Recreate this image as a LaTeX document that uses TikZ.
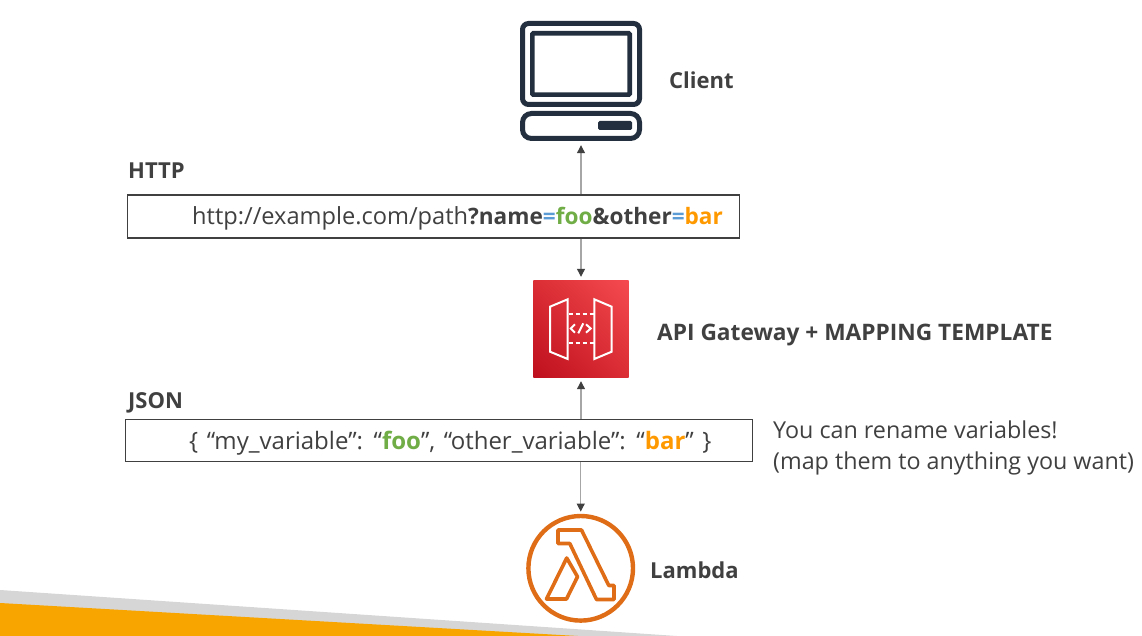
\documentclass[tikz,border=0pt]{standalone}
\usepackage{fontspec}
\setmainfont{Open Sans}
\usetikzlibrary{arrows.meta,shadings}
\definecolor{ink}{HTML}{404040}
\definecolor{navy}{HTML}{232F3E}
\definecolor{eqblue}{HTML}{5B9BD5}
\definecolor{foogreen}{HTML}{70AD47}
\definecolor{barorange}{HTML}{FF9900}
\definecolor{lam}{HTML}{DF6C16}
\definecolor{connector}{HTML}{A6A6A6}
\definecolor{band}{HTML}{F8A500}
\definecolor{bandgrey}{HTML}{D6D6D6}
\definecolor{gwlow}{HTML}{BE0F1E}
\definecolor{gwmid}{HTML}{DA2D34}
\definecolor{gwhigh}{HTML}{F54B50}
\newcommand{\boldpart}[1]{{\fontsize{22.6}{27}\selectfont\bfseries #1}}
\tikzset{
  x=1pt,y=-1pt,
  label text/.style={inner sep=0pt,anchor=base west,text=ink,font=\fontsize{22.7}{27}\selectfont\bfseries},
  short label/.style={label text,font=\fontsize{22}{27}\selectfont\bfseries},
  body text/.style={inner sep=0pt,anchor=base west,text=ink,font=\fontsize{23.3}{28}\selectfont},
  databox/.style={draw=ink,line width=1.3pt,fill=white,inner sep=0pt,anchor=north west},
  link/.style={draw=connector,line width=1.2pt,-{Triangle[width=8pt,length=8pt,color=ink,fill=ink]},shorten >=4pt},
  navyline/.style={draw=navy,line width=5pt,rounded corners=6pt},
  white art/.style={draw=white,line width=2pt,line join=miter},
  lam art/.style={draw=lam,line width=3.6pt,line join=round}
}
\begin{document}
\begin{tikzpicture}
\useasboundingbox (0,0) rectangle (1142,636);
% bottom band
\fill[bandgrey] (0,590) -- (677,636) -- (0,636) -- cycle;
\fill[band] (0,603) -- (578,636) -- (0,636) -- cycle;
% icon anchor nodes
\node[inner sep=0pt,minimum width=122pt,minimum height=120pt] (client) at (581,81) {};
\node[inner sep=0pt,minimum width=95pt,minimum height=96pt] (gateway) at (581,329) {};
\node[circle,inner sep=0pt,minimum size=109pt] (lambda) at (580.7,568.3) {};
% boxes
\node[databox,minimum width=612pt,minimum height=43pt] (httpbox) at (127,194.5) {};
\node[databox,minimum width=627pt,minimum height=42pt] (jsonbox) at (125,418.5) {};
% connectors
\draw[link] (httpbox.north -| client.south) -- (client.south);
\draw[link] (httpbox.south -| gateway.north) -- (gateway.north);
\draw[link] (jsonbox.north -| gateway.south) -- (gateway.south);
\draw[link,shorten >=2pt] (jsonbox.south -| lambda.north) -- (lambda.north);
% client icon
\draw[navyline] (522.5,23.5) rectangle (639.5,104.5);
\draw[draw=navy,line width=4.6pt,rounded corners=1pt] (532.3,33.3) rectangle (629.7,94.7);
\draw[navyline,rounded corners=9pt] (522.5,113.5) rectangle (639.5,138.5);
\fill[navy,rounded corners=1.5pt] (598,121) rectangle (632,130);
% gateway icon
\shade[shading=bilinear interpolation,lower left=gwlow,upper right=gwhigh,lower right=gwmid,upper left=gwmid]
  (gateway.north west) rectangle (gateway.south east);
\draw[white art] (550,306.7) -- (567.7,299.3) -- (567.7,359) -- (550,351.7) -- cycle;
\draw[white art] (594.3,299.3) -- (611.7,306.7) -- (611.7,351.7) -- (594.3,359) -- cycle;
\draw[white art,dash pattern=on 4pt off 3pt] (568.5,314.3) -- (594,314.3);
\draw[white art,dash pattern=on 4pt off 3pt] (568.5,342.7) -- (594,342.7);
\draw[white art] (575,324.3) -- (570.7,328.5) -- (575,332.7);
\draw[white art] (578.3,333.3) -- (583.3,323.3);
\draw[white art] (586,324.3) -- (590.7,328.5) -- (586,332.7);
% lambda icon
\draw[lam,line width=4.4pt] (lambda.center) circle (52.3pt);
\draw[lam art] (558,530) -- (581.5,530) -- (608.8,585.5) -- (614,585.5) -- (614,599.5) -- (596.5,599.5) -- (569.8,543.5) -- (558,543.5) -- cycle;
\draw[lam art] (566.7,558) -- (546.5,599) -- (566.5,599) -- (577.5,576.7) -- cycle;
% labels
\node[short label] (clientlabel) at (669,89) {Client};
\node[short label] (httplabel) at (128,179) {HTTP};
\node[label text] (gwlabel) at (657,340) {API Gateway + MAPPING TEMPLATE};
\node[short label] (jsonlabel) at (128,408.5) {JSON};
\node[short label] (lambdalabel) at (650,578) {Lambda};
\node[body text,font=\fontsize{23.6}{28}\selectfont] (httptext) at (192,225) {http://example.com/path\boldpart{?name\textcolor{eqblue}{=}\textcolor{foogreen}{foo}\&other\textcolor{eqblue}{=}\textcolor{barorange}{bar}}};
\node[body text,font=\fontsize{24}{28}\selectfont] (jsontext) at (189,449) {\spaceskip=8.5pt\relax \{ “my\_variable”: “\textcolor{foogreen}{\textbf{foo}}”, “other\_variable”: “\textcolor{barorange}{\textbf{bar}}” \}};
\node[body text] (note1) at (773,438.5) {You can rename variables!};
\node[body text] (note2) at (773,469.5) {(map them to anything you want)};
\end{tikzpicture}
\end{document}
